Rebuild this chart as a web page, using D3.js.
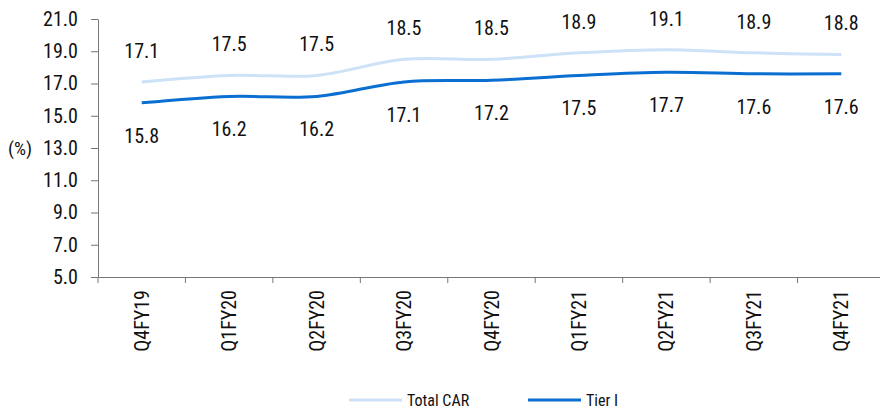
<!DOCTYPE html>
<html><head><meta charset="utf-8">
<script src="https://cdn.jsdelivr.net/npm/d3@7"></script>
<style>
body{margin:0;background:#fff;}
text{font-family:"Liberation Sans Narrow","Roboto Condensed","DejaVu Sans Condensed",sans-serif;fill:#111;}
</style></head>
<body><svg id="c" width="880" height="409"></svg>
<script>
const categories=["Q4FY19","Q1FY20","Q2FY20","Q3FY20","Q4FY20","Q1FY21","Q2FY21","Q3FY21","Q4FY21"];
const totalCAR=[17.1,17.5,17.5,18.5,18.5,18.9,19.1,18.9,18.8];
const tier1=[15.8,16.2,16.2,17.1,17.2,17.5,17.7,17.6,17.6];
const yTicks=[5,7,9,11,13,15,17,19,21];
const seriesNames=["Total CAR","Tier I"];
const colors=["#cde2f7","#0a6fd0"];

const svg=d3.select("#c");
const pL=98, pR=885, pT=19, pB=277;
const x=d3.scaleBand().domain(categories).range([pL,pR]).paddingInner(0).paddingOuter(0);
const y=d3.scaleLinear().domain([5,21]).range([pB,pT]);

// y axis
const ya=svg.append("g").attr("transform",`translate(${pL},0)`)
  .call(d3.axisLeft(y).tickValues(yTicks).tickFormat(d3.format(".1f")).tickSize(7).tickSizeOuter(0));
ya.select(".domain").attr("stroke","#777");
ya.selectAll(".tick line").attr("stroke","#777");
ya.selectAll(".tick text").attr("font-size",20).attr("x",-20).attr("fill","#111");

// x axis
const xa=svg.append("g").attr("transform",`translate(0,${pB})`)
  .call(d3.axisBottom(x).tickSize(0).tickSizeOuter(0));
xa.select(".domain").attr("stroke","#777");
xa.selectAll(".tick text").remove();
const bounds=categories.map(c=>x(c)).concat([x(categories[categories.length-1])+x.bandwidth()]);
svg.append("g").selectAll("line").data(bounds).join("line")
  .attr("x1",d=>d).attr("x2",d=>d).attr("y1",pB).attr("y2",pB+6).attr("stroke","#777");
svg.append("g").selectAll("text").data(categories).join("text")
  .attr("transform",d=>`translate(${x(d)+x.bandwidth()/2},${pB+13}) rotate(-90)`)
  .attr("text-anchor","end").attr("dy","0.35em").attr("font-size",20).text(d=>d);

svg.append("text").attr("x",20).attr("y",y(13)).attr("dy","0.35em").attr("text-anchor","middle")
  .attr("font-size",19).text("(%)");

const line=d3.line().x((d,i)=>x(categories[i])+x.bandwidth()/2).y(d=>y(d)).curve(d3.curveCatmullRom.alpha(0.5));
[totalCAR,tier1].forEach((s,k)=>{
  svg.append("path").datum(s).attr("d",line).attr("fill","none").attr("stroke",colors[k]).attr("stroke-width",3);
});
svg.append("g").selectAll("text").data(totalCAR).join("text")
  .attr("x",(d,i)=>x(categories[i])+x.bandwidth()/2).attr("y",d=>y(d)-31).attr("dy","0.35em")
  .attr("text-anchor","middle").attr("font-size",20).text(d=>d.toFixed(1));
svg.append("g").selectAll("text").data(tier1).join("text")
  .attr("x",(d,i)=>x(categories[i])+x.bandwidth()/2).attr("y",d=>y(d)+33).attr("dy","0.35em")
  .attr("text-anchor","middle").attr("font-size",20).text(d=>d.toFixed(1));

// legend
const lg=[{x:349,tx:407},{x:528,tx:586}];
seriesNames.forEach((n,k)=>{
  svg.append("line").attr("x1",lg[k].x).attr("x2",lg[k].x+53).attr("y1",400).attr("y2",400)
    .attr("stroke",colors[k]).attr("stroke-width",3);
  svg.append("text").attr("x",lg[k].tx).attr("y",400).attr("dy","0.35em").attr("font-size",16).text(n);
});
</script></body></html>
